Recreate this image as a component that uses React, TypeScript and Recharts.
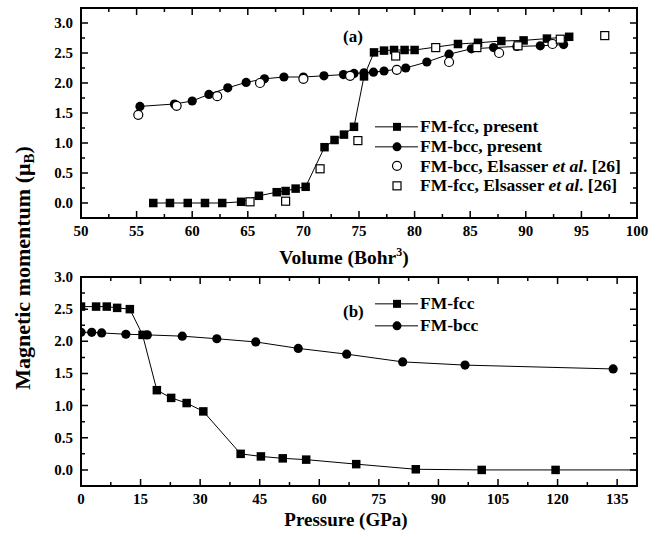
import React from 'react';
import { LineChart, Line, XAxis, YAxis, Legend } from 'recharts';

const FONT = "'Liberation Serif', 'Times New Roman', serif";

// panel (a): moment vs volume
const fccVolume = [56.5, 58.0, 59.6, 61.15, 62.7, 64.4, 66.0, 67.6, 68.4, 69.3, 70.2, 71.9, 72.8, 73.65, 74.55, 75.45, 76.35, 77.25, 78.15, 79.1, 80.0, 83.9, 85.7, 87.8, 89.8, 91.9, 93.9];
const fccMoment = [0, 0, 0, 0, 0, 0.02, 0.12, 0.18, 0.2, 0.24, 0.27, 0.93, 1.05, 1.14, 1.27, 2.11, 2.51, 2.54, 2.55, 2.55, 2.55, 2.65, 2.67, 2.7, 2.71, 2.74, 2.77];

const bccVolume = [55.3, 58.4, 60.0, 61.5, 63.2, 64.85, 66.5, 68.25, 70.0, 71.85, 73.6, 74.55, 75.45, 76.3, 77.25, 79.2, 81.1, 83.1, 85.1, 87.1, 89.2, 91.3, 93.4];
const bccMoment = [1.61, 1.65, 1.7, 1.81, 1.92, 2.01, 2.07, 2.1, 2.1, 2.12, 2.14, 2.16, 2.17, 2.18, 2.2, 2.25, 2.35, 2.48, 2.57, 2.59, 2.61, 2.62, 2.64];

const elsBccVolume = [55.15, 58.6, 62.25, 66.1, 70.0, 74.2, 78.4, 83.1, 87.6, 92.4];
const elsBccMoment = [1.47, 1.62, 1.78, 2.0, 2.07, 2.12, 2.22, 2.35, 2.5, 2.65];

const elsFccVolume = [65.2, 68.4, 71.5, 74.9, 78.3, 81.9, 85.6, 89.3, 93.1, 97.1];
const elsFccMoment = [0.02, 0.03, 0.57, 1.04, 2.45, 2.59, 2.59, 2.62, 2.73, 2.79];

// panel (b): moment vs pressure
const fccPressure = [0, 3.8, 6.5, 9.1, 12.3, 15.5, 19.1, 22.7, 26.6, 30.8, 40.2, 45.3, 50.8, 56.7, 69.3, 84.3, 100.9, 119.5, 145];
const fccMomentP = [2.54, 2.54, 2.54, 2.52, 2.5, 2.1, 1.24, 1.12, 1.04, 0.91, 0.25, 0.21, 0.18, 0.16, 0.09, 0.01, 0, 0, 0];

const bccPressure = [0, 2.7, 5.2, 11.3, 16.7, 25.5, 34.2, 44.0, 54.7, 66.9, 81.0, 96.7, 134.0];
const bccMomentP = [2.14, 2.14, 2.13, 2.11, 2.1, 2.08, 2.04, 1.99, 1.89, 1.8, 1.68, 1.63, 1.57];

// tick labels
const volumeTicks = [50, 55, 60, 65, 70, 75, 80, 85, 90, 95, 100];
const pressureTicks = [0, 15, 30, 45, 60, 75, 90, 105, 120, 135];
const momentTicks = [0, 0.5, 1, 1.5, 2, 2.5, 3];

const zip = (xs: number[], ys: number[]) => xs.map((x, i) => ({ x, y: ys[i] }));
const withMinor = (major: number[], max: number) => {
  const out: number[] = [];
  major.forEach((v, i) => {
    out.push(v);
    const step = i < major.length - 1 ? major[i + 1] - v : major[1] - major[0];
    if (v + step / 2 < max - 1e-6) out.push(v + step / 2);
  });
  return out;
};
const isMajor = (v: number, majors: number[]) => majors.some((m) => Math.abs(m - v) < 1e-6);

const xLabel = (majors: number[]) => (props: any) => {
  const v = props.payload.value;
  if (!isMajor(v, majors)) return <g />;
  return (
    <text x={Number(props.x)} y={Number(props.y) + 18} textAnchor="middle" fontFamily={FONT} fontWeight="bold" fontSize={15} fill="#000">
      {v}
    </text>
  );
};
const yLabel = (props: any) => {
  const v = props.payload.value;
  return (
    <text x={Number(props.x) - 8} y={Number(props.y) + 5} textAnchor="end" fontFamily={FONT} fontWeight="bold" fontSize={15} fill="#000">
      {v.toFixed(1)}
    </text>
  );
};

// plot boxes (page pixels) matching the chart margins below
type Panel = { left: number; top: number; w: number; h: number; xd: [number, number]; yd: [number, number]; xMaj: number[]; yMaj: number[] };
const PLOT_LEFT = 81;
const PLOT_W = 556;

// frame with inward major/minor ticks on all four sides
const FrameTicks = ({ p }: { p: Panel }) => {
  const sx = (v: number) => p.left + ((v - p.xd[0]) / (p.xd[1] - p.xd[0])) * p.w;
  const sy = (v: number) => p.top + p.h - ((v - p.yd[0]) / (p.yd[1] - p.yd[0])) * p.h;
  const bottom = p.top + p.h;
  const right = p.left + p.w;
  const segs: string[] = [];
  withMinor(p.xMaj, p.xd[1]).forEach((v) => {
    const len = isMajor(v, p.xMaj) ? 7 : 4;
    const x = sx(v);
    segs.push(`M${x},${bottom}v${-len}`, `M${x},${p.top}v${len}`);
  });
  withMinor(p.yMaj, p.yd[1]).forEach((v) => {
    const len = isMajor(v, p.yMaj) ? 7 : 4;
    const y = sy(v);
    segs.push(`M${p.left},${y}h${len}`, `M${right},${y}h${-len}`);
  });
  return (
    <g>
      <rect x={p.left} y={p.top} width={p.w} height={p.h} fill="none" stroke="#000" strokeWidth={2} />
      <path d={segs.join('')} stroke="#000" strokeWidth={1.5} fill="none" />
    </g>
  );
};

const FilledSquare = (p: any) =>
  p.cx == null ? <g key={p.index} /> : <rect key={p.index} x={p.cx - 4.25} y={p.cy - 4.25} width={8.5} height={8.5} fill="#000" />;
const FilledCircle = (p: any) =>
  p.cx == null ? <g key={p.index} /> : <circle key={p.index} cx={p.cx} cy={p.cy} r={4.6} fill="#000" />;
const OpenSquare = (p: any) =>
  p.cx == null ? <g key={p.index} /> : (
    <rect key={p.index} x={p.cx - 4} y={p.cy - 4} width={8} height={8} fill="#fff" stroke="#000" strokeWidth={1.2} />
  );
const OpenCircle = (p: any) =>
  p.cx == null ? <g key={p.index} /> : (
    <circle key={p.index} cx={p.cx} cy={p.cy} r={4.5} fill="#fff" stroke="#000" strokeWidth={1.2} />
  );

type Row = { marker: 'fs' | 'fc' | 'os' | 'oc'; line: boolean; label: React.ReactNode };

const LegendBox = ({ rows, rowH }: { rows: Row[]; rowH: number }) => (
  <div style={{ fontFamily: FONT, fontWeight: 'bold', fontSize: 17.5, color: '#000' }}>
    {rows.map((r, i) => (
      <div key={i} style={{ display: 'flex', alignItems: 'center', height: rowH, whiteSpace: 'nowrap' }}>
        <svg width={48} height={rowH} style={{ flex: 'none' }}>
          {r.line && <line x1={3} x2={46} y1={rowH / 2} y2={rowH / 2} stroke="#000" strokeWidth={1} />}
          {r.marker === 'fs' && <rect x={21} y={rowH / 2 - 4} width={8} height={8} fill="#000" />}
          {r.marker === 'fc' && <circle cx={25} cy={rowH / 2} r={4.5} fill="#000" />}
          {r.marker === 'os' && (
            <rect x={21} y={rowH / 2 - 4} width={8} height={8} fill="#fff" stroke="#000" strokeWidth={1.2} />
          )}
          {r.marker === 'oc' && <circle cx={25} cy={rowH / 2} r={4.5} fill="#fff" stroke="#000" strokeWidth={1.2} />}
        </svg>
        <span>{r.label}</span>
      </div>
    ))}
  </div>
);

const topRows: Row[] = [
  { marker: 'fs', line: true, label: 'FM-fcc, present' },
  { marker: 'fc', line: true, label: 'FM-bcc, present' },
  { marker: 'oc', line: false, label: <>FM-bcc, Elsasser <i>et al</i>. [26]</> },
  { marker: 'os', line: false, label: <>FM-fcc, Elsasser <i>et al</i>. [26]</> },
];
const bottomRows: Row[] = [
  { marker: 'fs', line: true, label: 'FM-fcc' },
  { marker: 'fc', line: true, label: 'FM-bcc' },
];

const axisLine = { stroke: '#000', strokeWidth: 2 };

export default function App() {
  const topPanel: Panel = { left: PLOT_LEFT, top: 8, w: PLOT_W, h: 210, xd: [50, 100], yd: [-0.25, 3.25], xMaj: volumeTicks, yMaj: momentTicks };
  const botPanel: Panel = { left: PLOT_LEFT, top: 277, w: PLOT_W, h: 209, xd: [0, 140], yd: [-0.25, 3], xMaj: pressureTicks, yMaj: momentTicks };

  return (
    <div style={{ position: 'absolute', left: 0, top: 0, width: 664, height: 537, background: '#fff' }}>
      <div style={{ position: 'absolute', left: 0, top: 0 }}>
        <LineChart width={664} height={270} margin={{ top: 8, right: 27, bottom: 0, left: 0 }}>
          <XAxis xAxisId="b" dataKey="x" type="number" domain={topPanel.xd} ticks={volumeTicks} interval={0}
            tickSize={0} tickMargin={0} tickLine={false} height={52} axisLine={axisLine} tick={xLabel(volumeTicks)} />
          <YAxis yAxisId="l" type="number" domain={topPanel.yd} ticks={momentTicks} interval={0}
            tickSize={0} tickMargin={0} tickLine={false} width={81} axisLine={axisLine} tick={yLabel} />
          <Line xAxisId="b" yAxisId="l" data={zip(fccVolume, fccMoment)} dataKey="y" type="linear" stroke="#000" strokeWidth={1}
            dot={FilledSquare} activeDot={false} isAnimationActive={false} />
          <Line xAxisId="b" yAxisId="l" data={zip(bccVolume, bccMoment)} dataKey="y" type="linear" stroke="#000" strokeWidth={1}
            dot={FilledCircle} activeDot={false} isAnimationActive={false} />
          <Line xAxisId="b" yAxisId="l" data={zip(elsBccVolume, elsBccMoment)} dataKey="y" type="linear" stroke="none"
            dot={OpenCircle} activeDot={false} isAnimationActive={false} />
          <Line xAxisId="b" yAxisId="l" data={zip(elsFccVolume, elsFccMoment)} dataKey="y" type="linear" stroke="none"
            dot={OpenSquare} activeDot={false} isAnimationActive={false} />
          <Legend layout="horizontal" verticalAlign="middle" align="center"
            wrapperStyle={{ left: 372, top: 117, width: 260 }}
            content={() => <LegendBox rows={topRows} rowH={19.7} />} />
        </LineChart>
      </div>

      <div style={{ position: 'absolute', left: 0, top: 270 }}>
        <LineChart width={664} height={267} margin={{ top: 7, right: 27, bottom: 0, left: 0 }}>
          <XAxis xAxisId="b" dataKey="x" type="number" domain={botPanel.xd} allowDataOverflow ticks={pressureTicks} interval={0}
            tickSize={0} tickMargin={0} tickLine={false} height={51} axisLine={axisLine} tick={xLabel(pressureTicks)} />
          <YAxis yAxisId="l" type="number" domain={botPanel.yd} ticks={momentTicks} interval={0}
            tickSize={0} tickMargin={0} tickLine={false} width={81} axisLine={axisLine} tick={yLabel} />
          <Line xAxisId="b" yAxisId="l" data={zip(fccPressure, fccMomentP)} dataKey="y" type="linear" stroke="#000" strokeWidth={1}
            dot={FilledSquare} activeDot={false} isAnimationActive={false} />
          <Line xAxisId="b" yAxisId="l" data={zip(bccPressure, bccMomentP)} dataKey="y" type="linear" stroke="#000" strokeWidth={1}
            dot={FilledCircle} activeDot={false} isAnimationActive={false} />
          <Legend layout="horizontal" verticalAlign="middle" align="center"
            wrapperStyle={{ left: 372, top: 23, width: 200 }}
            content={() => <LegendBox rows={bottomRows} rowH={21.7} />} />
        </LineChart>
      </div>

      <svg width={664} height={537} style={{ position: 'absolute', left: 0, top: 0, pointerEvents: 'none' }}
        fontFamily={FONT} fontWeight="bold" fill="#000">
        <FrameTicks p={topPanel} />
        <FrameTicks p={botPanel} />
        <text x={343} y={42} fontSize={17}>(a)</text>
        <text x={343} y={317} fontSize={17}>(b)</text>
        <text x={344} y={264} fontSize={19.5} textAnchor="middle">
          Volume (Bohr<tspan fontSize={12} dy={-8}>3</tspan><tspan dy={8}>)</tspan>
        </text>
        <text x={346} y={526} fontSize={19} textAnchor="middle">Pressure (GPa)</text>
        <text x={30} y={268} fontSize={22} textAnchor="middle" transform="rotate(-90 30 268)">
          Magnetic momentum (μ<tspan fontSize={15} dy={4}>B</tspan><tspan dy={-4}>)</tspan>
        </text>
      </svg>
    </div>
  );
}
